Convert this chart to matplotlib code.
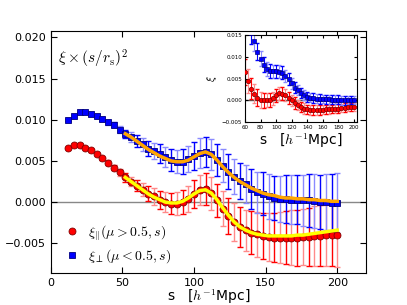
import matplotlib
matplotlib.use('Agg')
import matplotlib.pyplot as plt

plt.rcParams['mathtext.fontset'] = 'cm'

# основной график: xi * (s/rs)^2
s = [12, 16, 20, 24, 28, 32, 36, 40, 44, 48,
     52, 56, 60, 64, 68, 72, 76, 80, 84, 88, 92, 96, 100,
     104, 108, 112, 116, 120, 124, 128, 132, 136, 140, 144, 148, 152,
     156, 160, 164, 168, 172, 176, 180, 184, 188, 192, 196, 200]
xi_par = [0.0066, 0.0069, 0.0069, 0.0066, 0.0063, 0.0058, 0.0053, 0.0048, 0.0042, 0.0036,
          0.0030, 0.0025, 0.0020, 0.0015, 0.0010, 0.0007, 0.0003, 0.0000, -0.0002, -0.0002, 0.0000, 0.0004, 0.0010,
          0.0015, 0.0016, 0.0011, 0.0002, -0.0008, -0.0017, -0.0024, -0.0030, -0.0034, -0.0037, -0.0039, -0.0041, -0.0042,
          -0.0043, -0.0043, -0.0043, -0.0043, -0.0043, -0.0042, -0.0042, -0.0041, -0.0041, -0.0040, -0.0040, -0.0040]
xi_perp = [0.0100, 0.0105, 0.0109, 0.0109, 0.0107, 0.0104, 0.0101, 0.0097, 0.0094, 0.0088,
           0.0083, 0.0079, 0.0074, 0.0070, 0.0065, 0.0062, 0.0059, 0.0055, 0.0051, 0.0049, 0.0049, 0.0052, 0.0056,
           0.0060, 0.0061, 0.0058, 0.0051, 0.0044, 0.0037, 0.0031, 0.0026, 0.0022, 0.0016, 0.0012, 0.0010, 0.0007,
           0.0005, 0.0004, 0.0004, 0.0003, 0.0003, 0.0002, 0.0002, 0.0001, 0.0000, 0.0000, -0.0001, -0.0001]
err_par = [0.0001, 0.0001, 0.0001, 0.0001, 0.0002, 0.0002, 0.0002, 0.0003, 0.0003, 0.0004,
           0.0005, 0.0006, 0.0007, 0.0008, 0.0009, 0.0010, 0.0011, 0.0012, 0.0013, 0.0014, 0.0015, 0.0016, 0.0017,
           0.0018, 0.0019, 0.0020, 0.0020, 0.0021, 0.0022, 0.0023, 0.0024, 0.0025, 0.0026, 0.0027, 0.0028, 0.0029,
           0.0030, 0.0031, 0.0032, 0.0033, 0.0034, 0.0034, 0.0035, 0.0036, 0.0037, 0.0037, 0.0038, 0.0039]
err_perp = [0.0001, 0.0001, 0.0001, 0.0001, 0.0002, 0.0002, 0.0002, 0.0003, 0.0003, 0.0004,
            0.0005, 0.0006, 0.0007, 0.0008, 0.0009, 0.0010, 0.0011, 0.0012, 0.0013, 0.0014, 0.0015, 0.0016, 0.0017,
            0.0018, 0.0018, 0.0019, 0.0019, 0.0020, 0.0021, 0.0021, 0.0022, 0.0023, 0.0024, 0.0025, 0.0026, 0.0027,
            0.0027, 0.0028, 0.0029, 0.0030, 0.0030, 0.0031, 0.0032, 0.0033, 0.0033, 0.0034, 0.0035, 0.0036]

# модели (фит)
s_fit = [52, 56, 60, 64, 68, 72, 76, 80, 84, 88, 92, 96, 100, 104, 108, 112, 116, 120, 124,
         128, 132, 136, 140, 144, 148, 152, 156, 160, 164, 168, 172, 176, 180, 184, 188, 192, 196, 200]
fit_perp = [0.0083, 0.0079, 0.0074, 0.0069, 0.0064, 0.0060, 0.0056, 0.0053, 0.0050, 0.0049, 0.0049, 0.0051,
            0.0055, 0.0059, 0.0061, 0.0058, 0.0051, 0.0043, 0.0036, 0.0030, 0.0025, 0.0021, 0.0017, 0.0014,
            0.0011, 0.0009, 0.0008, 0.0006, 0.0005, 0.0005, 0.0004, 0.0004, 0.0003, 0.0003, 0.0002, 0.0002,
            0.0001, 0.0001]
fit_par = [0.0030, 0.0025, 0.0020, 0.0015, 0.0010, 0.0006, 0.0003, 0.0000, -0.0001, -0.0001, 0.0001, 0.0005,
           0.0010, 0.0014, 0.0015, 0.0011, 0.0003, -0.0007, -0.0016, -0.0024, -0.0030, -0.0034, -0.0037, -0.0039,
           -0.0040, -0.0041, -0.0041, -0.0041, -0.0041, -0.0041, -0.0040, -0.0040, -0.0039, -0.0038, -0.0037,
           -0.0036, -0.0035, -0.0034]

# вставка: xi без множителя
s_in = [60, 64, 68, 72, 76, 80, 84, 88, 92, 96, 100, 104, 108, 112, 116, 120, 124, 128,
        132, 136, 140, 144, 148, 152, 156, 160, 164, 168, 172, 176, 180, 184, 188, 192, 196, 200]
xi_par_in = [0.0066, 0.0044, 0.0027, 0.0015, 0.0006, 0.0001, 0.0000, 0.0000, 0.0001, 0.0005, 0.0011, 0.0016,
             0.0015, 0.0012, 0.0006, 0.0000, -0.0006, -0.0011, -0.0016, -0.0019, -0.0021, -0.0022, -0.0022,
             -0.0022, -0.0022, -0.0022, -0.0021, -0.0021, -0.0020, -0.0019, -0.0019, -0.0018, -0.0017,
             -0.0016, -0.0016, -0.0015]
xi_perp_in = [0.0225, 0.0185, 0.0155, 0.0136, 0.0112, 0.0096, 0.0082, 0.0072, 0.0068, 0.0067, 0.0067, 0.0066,
              0.0063, 0.0056, 0.0048, 0.0039, 0.0029, 0.0023, 0.0017, 0.0012, 0.0008, 0.0006, 0.0005, 0.0004,
              0.0003, 0.0003, 0.0002, 0.0002, 0.0001, 0.0001, 0.0001, 0.0000, 0.0000, 0.0000, 0.0000, 0.0000]
err_in = [0.0030, 0.0028, 0.0025, 0.0022, 0.0020, 0.0018, 0.0017, 0.0016, 0.0016, 0.0015, 0.0015, 0.0015,
          0.0015, 0.0014, 0.0014, 0.0013, 0.0013, 0.0012, 0.0012, 0.0012, 0.0011, 0.0011, 0.0011, 0.0011,
          0.0011, 0.0010, 0.0010, 0.0010, 0.0010, 0.0010, 0.0010, 0.0010, 0.0010, 0.0009, 0.0009, 0.0009]


def draw(ax, x, y, e, color, light, lw=1.0, cs=2.5):
    # ошибки чередуются: яркие и бледные
    ax.errorbar(x[1::2], y[1::2], yerr=e[1::2], fmt='none', ecolor=light, elinewidth=lw, capsize=cs)
    ax.errorbar(x[0::2], y[0::2], yerr=e[0::2], fmt='none', ecolor=color, elinewidth=lw, capsize=cs)


fig = plt.figure(figsize=(4.07, 3.05), dpi=100)
ax = fig.add_axes([0.125, 0.105, 0.774, 0.794])

ax.axhline(0, color='#888888', lw=1, zorder=1)
draw(ax, s, xi_par, err_par, 'red', '#ff8a8a')
draw(ax, s, xi_perp, err_perp, 'blue', '#8a8aff')
ax.plot(s, xi_par, 'o', color='red', mec='#800000', ms=5, mew=0.6, zorder=3,
        label=r'$\xi_{||}(\mu>0.5,s)$')
ax.plot(s, xi_perp, 's', color='blue', mec='#000080', ms=5, mew=0.6, zorder=3,
        label=r'$\xi_{\perp}(\mu<0.5,s)$')
ax.plot(s_fit, fit_par, '-', color='yellow', lw=2.5, zorder=4)
ax.plot(s_fit, fit_perp, '-', color='orange', lw=2.5, zorder=4)

ax.set_xlim(0, 220)
ax.set_ylim(-0.0086, 0.0208)
ax.set_xticks([0, 50, 100, 150, 200])
ax.set_yticks([-0.005, 0.0, 0.005, 0.010, 0.015, 0.020])
ax.set_yticklabels(['\u22120.005', '0.000', '0.005', '0.010', '0.015', '0.020'])
ax.tick_params(direction='in', top=True, right=True, labelsize=8, length=4)
ax.set_xlabel(r's   [$h^{-1}$Mpc]', fontsize=10, labelpad=0)
ax.text(0.022, 0.93, r'$\xi\times(s/r_{\rm s})^2$', transform=ax.transAxes,
        fontsize=11, va='top', ha='left')
ax.legend(loc='lower left', bbox_to_anchor=(0.0, -0.02), frameon=False, numpoints=1,
          fontsize=10, handlelength=1.2, handletextpad=0.6, labelspacing=0.35)

# вставка
axi = fig.add_axes([0.602, 0.6, 0.275, 0.285])
axi.axhline(0, color='#555555', lw=1, zorder=1)
draw(axi, s_in, xi_par_in, err_in, 'red', '#ff8a8a', lw=0.8, cs=1.5)
draw(axi, s_in, xi_perp_in, err_in, 'blue', '#8a8aff', lw=0.8, cs=1.5)
axi.plot(s_in, xi_par_in, 'o', color='red', mec='#800000', ms=3.2, mew=0.5, zorder=3)
axi.plot(s_in, xi_perp_in, 's', color='blue', mec='#000080', ms=3.2, mew=0.5, zorder=3)
axi.set_xlim(60, 204)
axi.set_ylim(-0.005, 0.015)
axi.set_xticks([60, 80, 100, 120, 140, 160, 180, 200])
axi.set_yticks([-0.005, 0.0, 0.005, 0.010, 0.015])
axi.set_yticklabels(['\u22120.005', '0.000', '0.005', '0.010', '0.015'])
axi.tick_params(direction='in', top=True, right=True, labelsize=4, length=2, pad=2)
axi.set_xlabel(r's   [$h^{-1}$Mpc]', fontsize=10, labelpad=1)
axi.set_ylabel(r'$\xi$', fontsize=8, labelpad=2)

fig.savefig('out.png', dpi=100)
